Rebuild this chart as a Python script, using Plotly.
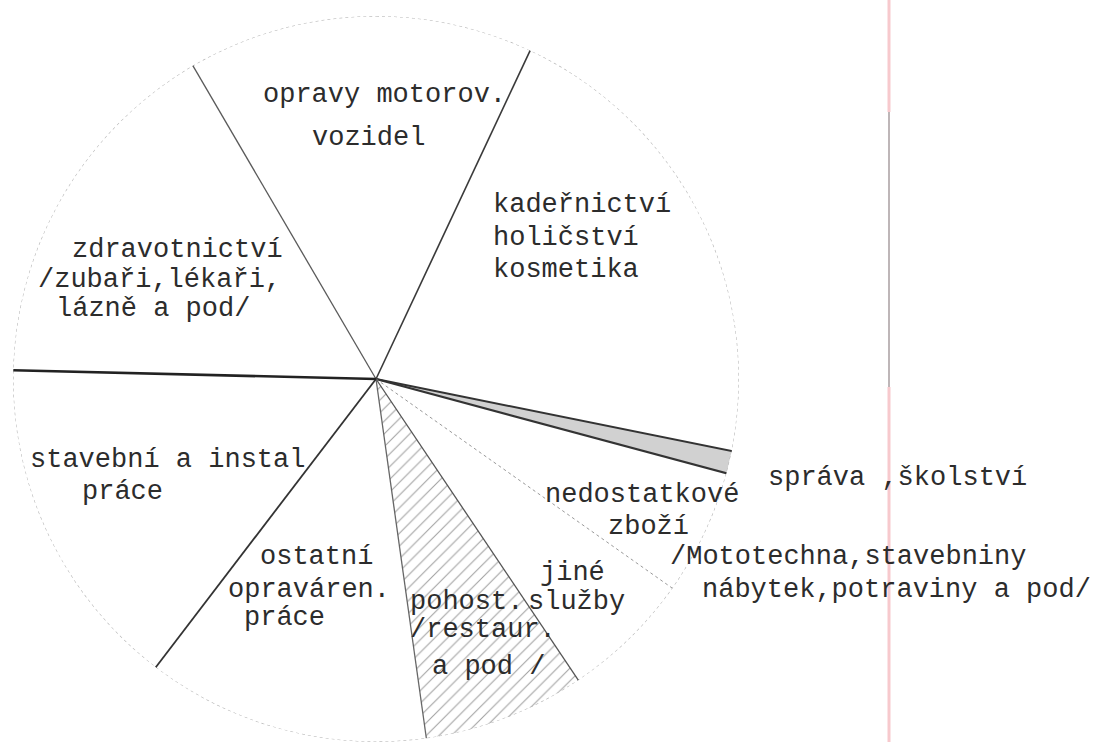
import numpy as np
import plotly.graph_objects as go

# ---- data ----
categories = [
    "opravy motorov. vozidel",
    "kadeřnictví holičství kosmetika",
    "správa, školství",
    "nedostatkové zboží",
    "jiné služby",
    "pohost. /restaur. a pod /",
    "ostatní opraváren. práce",
    "stavební a instal práce",
    "zdravotnictví /zubaři, lékaři, lázně a pod/",
]
shares = [15.4, 21.2, 1.0, 5.6, 5.8, 7.2, 12.6, 15.0, 16.2]  # percent of the circle
start_angle = -30.3  # degrees clockwise from 12 o'clock where the first slice starts

label_lines = [
    ["opravy motorov.", "vozidel"],
    ["kadeřnictví", "holičství", "kosmetika"],
    ["správa ,školství"],
    ["nedostatkové", "zboží", "/Mototechna,stavebniny", "nábytek,potraviny a pod/"],
    ["jiné", "služby"],
    ["pohost.", "/restaur.", "a pod /"],
    ["ostatní", "opraváren.", "práce"],
    ["stavební a instal", "práce"],
    ["zdravotnictví", "/zubaři,lékaři,", "lázně a pod/"],
]

# ---- derived geometry (from the data) ----
W, H = 1098, 742
spans = np.array(shares) / sum(shares) * 360.0
bounds = start_angle + np.concatenate([[0], np.cumsum(spans)])
centers = (bounds[:-1] + bounds[1:]) / 2

fig = go.Figure()

# slice fills (only two slices are shaded in the original)
fills = ["rgba(0,0,0,0)"] * len(categories)
fills[2] = "rgba(185,185,185,0.65)"
patterns = [""] * len(categories)
patterns[5] = "/"
fig.add_trace(go.Barpolar(
    r=[1] * len(categories), theta=centers, width=spans, base=0,
    marker=dict(color=fills, line=dict(width=0),
                pattern=dict(shape=patterns, fgcolor="#cdcdcd", size=9, solidity=0.12)),
    hoverinfo="skip", showlegend=False,
))

# faint dotted circle outline
circ = np.linspace(0, 360, 361)
fig.add_trace(go.Scatterpolar(
    r=[1] * len(circ), theta=circ, mode="lines",
    line=dict(color="#b5b5b5", width=1.2, dash="dot"),
    hoverinfo="skip", showlegend=False,
))

# radial boundary lines (styles approximate the hand drawing)
line_styles = [
    dict(color="#5a5a5a", width=1.3),              # upper-left
    dict(color="#3a3a3a", width=1.6),              # upper-right
    dict(color="#333333", width=2.0),              # správa upper
    dict(color="#333333", width=2.2),              # správa lower
    dict(color="#999999", width=1.0, dash="dot"),  # nedostatkové / jiné
    dict(color="#555555", width=1.3),              # jiné / pohost
    dict(color="#666666", width=1.3),              # pohost / ostatní
    dict(color="#333333", width=1.8),              # ostatní / stavební
    dict(color="#222222", width=2.6),              # stavební / zdravotnictví
]
ext = {2: 1.11, 3: 1.09}
for i, b in enumerate(bounds[:-1]):
    fig.add_trace(go.Scatterpolar(
        r=[0, ext.get(i, 1.0)], theta=[b, b], mode="lines",
        line=line_styles[i], cliponaxis=False,
        hoverinfo="skip", showlegend=False,
    ))

R = 363
cx, cy = 376, H - R
fig.update_layout(
    width=W, height=H,
    margin=dict(l=0, r=0, t=0, b=0),
    paper_bgcolor="white",
    polar=dict(
        domain=dict(x=[(cx - R) / W, (cx + R) / W], y=[0, 2 * R / H]),
        bgcolor="rgba(0,0,0,0)",
        radialaxis=dict(range=[0, 1], visible=False, showgrid=False),
        angularaxis=dict(direction="clockwise", rotation=90, visible=False, showgrid=False),
        bargap=0,
    ),
)

# label placement (left x, middle y in pixels) for each line of each label
label_pos = [
    [(261, 95), (310, 138)],
    [(491, 205), (491, 238), (491, 270)],
    [(766, 478)],
    [(543, 495), (606, 527), (668, 557), (700, 590)],
    [(538, 573), (526, 602)],
    [(408, 602), (408, 630), (430, 667)],
    [(258, 557), (226, 590), (242, 618)],
    [(28, 460), (80, 492)],
    [(70, 250), (36, 280), (54, 309)],
]
for lines, poss in zip(label_lines, label_pos):
    for txt, (x, y) in zip(lines, poss):
        fig.add_annotation(
            x=x / W, y=1 - y / H, xref="paper", yref="paper",
            text=txt, showarrow=False, xanchor="left", yanchor="middle",
            font=dict(family="Liberation Mono", size=27, color="#2c2c2c"),
        )

# scanner page-edge artifact on the right
fig.add_shape(type="line", xref="paper", yref="paper",
              x0=889 / W, x1=889 / W, y0=1, y1=1 - 112 / H,
              line=dict(color="#f7c9cd", width=3))
fig.add_shape(type="line", xref="paper", yref="paper",
              x0=889 / W, x1=889 / W, y0=1 - 112 / H, y1=1 - 387 / H,
              line=dict(color="#a89ea0", width=1.5))
fig.add_shape(type="line", xref="paper", yref="paper",
              x0=889 / W, x1=889 / W, y0=1 - 387 / H, y1=0,
              line=dict(color="#f7c9cd", width=3))

fig.write_html(
    "out.html",
    config={"displayModeBar": False},
    post_script="document.body.style.margin='0';document.body.style.overflow='hidden';",
)
